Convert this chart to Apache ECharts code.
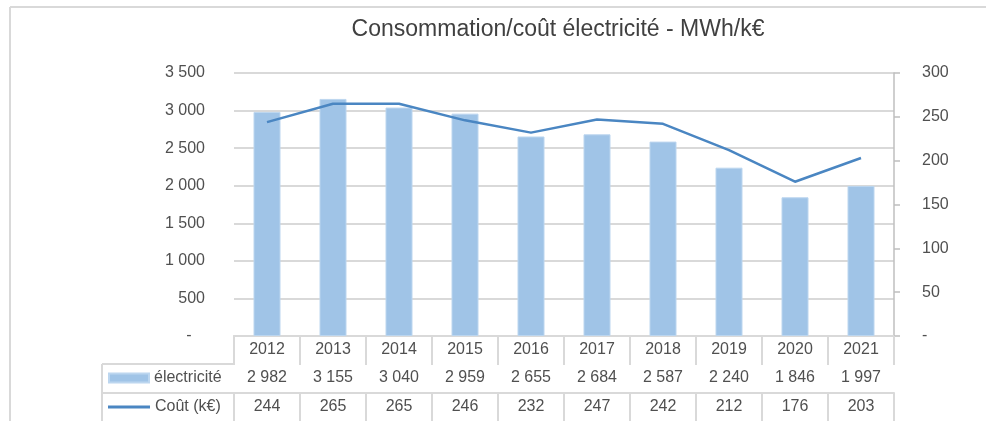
<!DOCTYPE html>
<html><head><meta charset="utf-8">
<script src="https://cdn.jsdelivr.net/npm/echarts@6/dist/echarts.min.js"></script>
<style>html,body{margin:0;padding:0;background:#fff}#c{width:986px;height:421px}</style>
</head><body><div id="c"></div>
<script>
var years = ['2012','2013','2014','2015','2016','2017','2018','2019','2020','2021'];
var electricite = [2982,3155,3040,2959,2655,2684,2587,2240,1846,1997];
var cout = [244,265,265,246,232,247,242,212,176,203];
var leftTicks = {min:0, max:3500, interval:500};
var rightTicks = {min:0, max:300, interval:50};
var titleText = 'Consommation/coût électricité - MWh/k€';
var nameElec = 'électricité';
var nameCout = 'Coût (k€)';

var FONT = '"Liberation Sans", Arial, sans-serif';
var TXT = '#505050';
var LINE = '#d9d9d9';
var BAR = '#a0c4e7';
var COST = '#4a86c2';
function fmt(n){ return n === 0 ? '-' : String(n).replace(/\B(?=(\d{3})+(?!\d))/g, ' '); }

var chart = echarts.init(document.getElementById('c'), null, {renderer:'canvas'});
var G = {left:234, right:92, top:73, bottom:85};
var rowH = [28, 29, 30];
function tableAxis(offset, len, labels){
  return {
    type:'category', data: years, position:'bottom', offset: offset, gridIndex:0,
    boundaryGap:true,
    axisLine:{show:true, lineStyle:{color:LINE, width:2}},
    axisTick:{show:true, interval:0, length:len, inside:false, lineStyle:{color:LINE, width:2}},
    axisLabel:{show:true, interval:0, margin: 14, verticalAlign:'middle',
      color:TXT, fontFamily:FONT, fontSize:16,
      formatter:function(v, i){ return labels[i]; }},
    splitLine:{show:false}
  };
}
var option = {
  animation:false,
  backgroundColor:'#fff',
  textStyle:{fontFamily:FONT},
  title:{text:titleText, left:553, top:13, textAlign:'center',
    textStyle:{color:'#404040', fontFamily:FONT, fontSize:23, fontWeight:'normal'}},
  grid:{left:G.left, right:G.right, top:G.top, bottom:G.bottom},
  legend:[
    {data:[{name:nameElec, icon:'rect'}], orient:'vertical', left:108, top:370, itemWidth:40, itemHeight:9, selectedMode:false,
      textStyle:{color:TXT, fontFamily:FONT, fontSize:16}, padding:0},
    {data:[{name:nameCout, icon:'rect', itemStyle:{color:COST}}], orient:'vertical', left:108, top:399, itemWidth:42, itemHeight:3, selectedMode:false,
      textStyle:{color:TXT, fontFamily:FONT, fontSize:16}, padding:0}
  ],
  xAxis:[
    tableAxis(0, rowH[0], years),
    tableAxis(rowH[0], rowH[1], electricite.map(fmt)),
    tableAxis(rowH[0]+rowH[1], rowH[2], cout.map(fmt))
  ],
  yAxis:[
    {type:'value', min:leftTicks.min, max:leftTicks.max, interval:leftTicks.interval, position:'left',
      axisLine:{show:false}, axisTick:{show:false},
      axisLabel:{margin:29, color:TXT, fontFamily:FONT, fontSize:16,
        formatter:function(v){ return v===0 ? '-   ' : fmt(v); }},
      splitLine:{show:true, lineStyle:{color:LINE, width:2}}},
    {type:'value', min:rightTicks.min, max:rightTicks.max, interval:rightTicks.interval, position:'right',
      axisLine:{show:true, lineStyle:{color:'#bfbfbf', width:1.5}},
      axisTick:{show:true, length:6, lineStyle:{color:'#bfbfbf', width:1.5}},
      axisLabel:{margin:28, color:TXT, fontFamily:FONT, fontSize:16,
        formatter:function(v){ return v===0 ? '-' : fmt(v); }},
      splitLine:{show:false}}
  ],
  series:[
    {name:nameElec, type:'bar', xAxisIndex:0, yAxisIndex:0, data:electricite, barWidth:27,
      itemStyle:{color:BAR, borderColor:'#bcd6ef', borderWidth:1}},
    {name:nameCout, type:'line', xAxisIndex:0, yAxisIndex:1, data:cout, symbol:'none',
      lineStyle:{color:COST, width:2.5}, itemStyle:{color:COST}}
  ],
  graphic:[
    {type:'line', shape:{x1:10, y1:7, x2:986, y2:7}, style:{stroke:LINE, lineWidth:2}},
    {type:'line', shape:{x1:10, y1:7, x2:10, y2:421}, style:{stroke:LINE, lineWidth:2}},
    {type:'line', shape:{x1:102, y1:364, x2:234, y2:364}, style:{stroke:LINE, lineWidth:2}},
    {type:'line', shape:{x1:102, y1:393, x2:234, y2:393}, style:{stroke:LINE, lineWidth:2}},
    {type:'line', shape:{x1:102, y1:364, x2:102, y2:421}, style:{stroke:LINE, lineWidth:2}}
  ]
};
chart.setOption(option);
</script></body></html>
